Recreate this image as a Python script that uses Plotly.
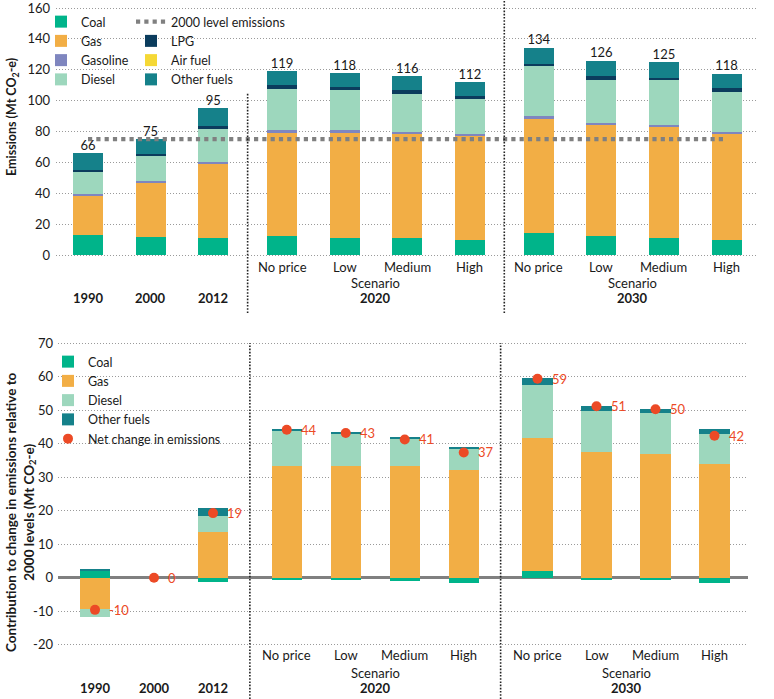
import plotly.graph_objects as go

# ---------------- data ----------------
periods = ["1990", "2000", "2012"]
scenarios = ["No price", "Low", "Medium", "High"]
scenario_years = ["2020", "2030"]

# Top chart: emissions by fuel (Mt CO2-e); order = 1990, 2000, 2012, 2020 x4, 2030 x4
coal     = [13.0, 12.0, 11.0, 12.3, 11.2, 11.2, 9.9, 14.4, 12.3, 11.2, 9.9]
gas      = [25.0, 34.4, 48.0, 67.0, 68.2, 67.2, 67.4, 73.9, 71.7, 71.7, 68.5]
gasoline = [1.3, 1.3, 1.3, 1.6, 1.6, 1.3, 1.3, 1.7, 1.5, 1.3, 1.5]
diesel   = [15.0, 16.8, 21.4, 27.0, 25.7, 24.8, 22.4, 32.6, 28.1, 29.1, 25.8]
lpg      = [0.7, 0.9, 1.9, 2.0, 2.3, 2.5, 2.2, 1.3, 2.4, 1.3, 2.3]
air_fuel = [0.0, 0.0, 0.0, 0.0, 0.0, 0.0, 0.0, 0.0, 0.0, 0.0, 0.0]
other    = [11.0, 9.6, 11.4, 9.4, 9.0, 9.0, 8.8, 10.4, 10.0, 10.4, 9.6]

# Bottom chart: contribution to change relative to 2000 levels
d_coal   = [2.1, 0.0, -1.1, -0.5, -0.5, -1.0, -1.6, 2.1, -0.5, -0.5, -1.6]
d_gas    = [-9.3, 0.0, 13.8, 33.4, 33.4, 33.4, 32.4, 39.8, 37.6, 37.2, 34.0]
d_diesel = [-2.3, 0.0, 4.6, 10.7, 9.6, 8.0, 6.3, 15.8, 12.3, 12.1, 9.0]
d_other  = [0.6, 0.0, 2.5, 0.4, 0.6, 0.6, 0.5, 2.1, 1.4, 1.1, 1.6]
net      = [-9.6, 0.0, 19.3, 44.2, 43.2, 41.3, 37.4, 59.4, 51.2, 50.3, 42.4]

top_ticks = [0, 20, 40, 60, 80, 100, 120, 140, 160]
bot_ticks = [-20, -10, 0, 10, 20, 30, 40, 50, 60, 70]

# ---------------- styling ----------------
W, H = 774, 699
FONT = "Lato"
C_COAL, C_GAS, C_GASOLINE = "#00B48A", "#F2AE45", "#7F86BF"
C_DIESEL, C_LPG, C_AIR, C_OTHER = "#9DD7BD", "#0B3C5D", "#F5D835", "#15818A"
C_NET = "#EC4A26"
TXT = "#1a1a1a"


def py(px):
    return 1 - px / H


def slot_positions(gap):
    xs = [float(i) for i in range(len(periods))]
    for g in range(len(scenario_years)):
        base = len(periods) + g * len(scenarios) + (g + 1) * gap
        xs += [base + i for i in range(len(scenarios))]
    return xs


xt = slot_positions(0.1)
xb = slot_positions(0.25)

fig = go.Figure()

# ---- top stacked bars ----
top_series = [
    ("Coal", coal, C_COAL, "legend", 1),
    ("Gas", gas, C_GAS, "legend", 2),
    ("Gasoline", gasoline, C_GASOLINE, "legend", 3),
    ("Diesel", diesel, C_DIESEL, "legend", 4),
    ("LPG", lpg, C_LPG, "legend2", 2),
    ("Air fuel", air_fuel, C_AIR, "legend2", 3),
    ("Other fuels", other, C_OTHER, "legend2", 4),
]
for name, vals, col, leg, rank in top_series:
    fig.add_trace(go.Bar(x=xt, y=vals, name=name, marker=dict(color=col, line=dict(width=0)),
                         width=0.48, xaxis="x", yaxis="y", legend=leg, legendrank=rank))

totals = [sum(v) for v in zip(coal, gas, gasoline, diesel, lpg, air_fuel, other)]
level_2000 = totals[periods.index("2000")]

fig.add_trace(go.Scatter(x=[xt[0], xt[-1]], y=[level_2000, level_2000], mode="lines",
                         name="2000 level emissions",
                         line=dict(color="#808080", width=4.2, dash="4.2px,4.1px"),
                         xaxis="x", yaxis="y", legend="legend2", legendrank=1))

fig.add_trace(go.Scatter(x=xt, y=totals, mode="text", text=[f"{round(t)}" for t in totals],
                         textposition="top center", textfont=dict(size=13, color=TXT, family=FONT),
                         showlegend=False, xaxis="x", yaxis="y", hoverinfo="skip"))

# ---- bottom stacked bars ----
bot_series = [
    ("Coal", d_coal, C_COAL),
    ("Gas", d_gas, C_GAS),
    ("Diesel", d_diesel, C_DIESEL),
    ("Other fuels", d_other, C_OTHER),
]
for i, (name, vals, col) in enumerate(bot_series):
    fig.add_trace(go.Bar(x=xb, y=vals, name=name, marker=dict(color=col, line=dict(width=0)),
                         width=0.51, xaxis="x2", yaxis="y2", legend="legend3", legendrank=i + 1))

fig.add_trace(go.Scatter(x=xb, y=net, mode="markers", name="Net change in emissions",
                         marker=dict(color=C_NET, size=10),
                         xaxis="x2", yaxis="y2", legend="legend3", legendrank=5))

# ---------------- axes ----------------
grid = dict(showgrid=True, gridcolor="#9a9a9a", griddash="1px,2px", gridwidth=1)
tickfont = dict(size=13, color=TXT, family=FONT)
top_ppu = 247 / 160.0
bot_ppu = (644.7 - 343.3) / 90.0
pad_t, pad_b = 2.0, 0.8

fig.update_layout(
    xaxis=dict(domain=[56 / W, 758 / W], range=[(56 - 88) / 62.6, (758 - 88) / 62.6],
               anchor="y", showticklabels=False, showgrid=False, zeroline=False),
    yaxis=dict(domain=[py(255 + pad_t * top_ppu), py(8 - pad_t * top_ppu)],
               range=[-pad_t, 160 + pad_t], anchor="x", tickvals=top_ticks,
               ticktext=[str(v) for v in top_ticks], zeroline=False, showline=False,
               tickfont=tickfont, ticklabelstandoff=5, ticklabeloverflow="allow",
               automargin=False, **grid),
    xaxis2=dict(domain=[58 / W, 748 / W], range=[(58 - 95) / 59, (748 - 95) / 59],
                anchor="y2", showticklabels=False, showgrid=False, zeroline=False),
    yaxis2=dict(domain=[py(644.7 + pad_b * bot_ppu), py(343.3 - pad_b * bot_ppu)],
                range=[-20 - pad_b, 70 + pad_b], anchor="x2", tickvals=bot_ticks,
                ticktext=[str(v) for v in bot_ticks], zeroline=True, zerolinecolor="#808080",
                zerolinewidth=2.5, showline=False, tickfont=tickfont, ticklabelstandoff=4,
                ticklabeloverflow="allow", automargin=False, **grid),
)

# ---------------- group separators ----------------
shapes = []
sep_style = dict(color="#222222", width=1.6, dash="1.6px,1.6px")
for g in range(len(scenario_years)):
    last_idx = len(periods) + g * len(scenarios) - 1
    xs_top = (xt[last_idx] + xt[last_idx + 1]) / 2
    xs_bot = (xb[last_idx] + xb[last_idx + 1]) / 2
    shapes.append(dict(type="line", xref="x", yref="paper", x0=xs_top, x1=xs_top,
                       y0=py(313), y1=py(93) if g == 0 else 1.0, line=sep_style, layer="above"))
    shapes.append(dict(type="line", xref="x2", yref="paper", x0=xs_bot, x1=xs_bot,
                       y0=0.0, y1=py(343), line=sep_style, layer="above"))

# ---------------- annotations ----------------
ann = []


def add_labels(xref, xs, y_scen, y_scen_title, y_year):
    for i, p in enumerate(periods):
        ann.append(dict(x=xs[i], y=py(y_year), xref=xref, yref="paper", text=f"<b>{p}</b>",
                        showarrow=False, xanchor="center", yanchor="middle",
                        font=dict(size=13, color=TXT, family=FONT)))
    for g, yr in enumerate(scenario_years):
        idx = [len(periods) + g * len(scenarios) + i for i in range(len(scenarios))]
        for i, s in zip(idx, scenarios):
            ann.append(dict(x=xs[i], y=py(y_scen), xref=xref, yref="paper", text=s,
                            showarrow=False, xanchor="center", yanchor="middle",
                            font=dict(size=13, color=TXT, family=FONT)))
        cx = sum(xs[i] for i in idx) / len(idx)
        ann.append(dict(x=cx, y=py(y_scen_title), xref=xref, yref="paper", text="Scenario",
                        showarrow=False, xanchor="center", yanchor="middle",
                        font=dict(size=13, color=TXT, family=FONT)))
        ann.append(dict(x=cx, y=py(y_year), xref=xref, yref="paper", text=f"<b>{yr}</b>",
                        showarrow=False, xanchor="center", yanchor="middle",
                        font=dict(size=13, color=TXT, family=FONT)))


add_labels("x", xt, 267, 283, 298)
add_labels("x2", xb, 655, 673, 688)

# net change value labels, to the right of each dot
for xv, v in zip(xb, net):
    ann.append(dict(x=xv, y=v, xref="x2", yref="y2", text=f"{round(v)}", showarrow=False,
                    xanchor="left", yanchor="middle", xshift=12,
                    font=dict(size=13, color=C_NET, family=FONT)))

ann.append(dict(x=12 / W, y=py(117), xref="paper", yref="paper", textangle=-90,
                xanchor="center", yanchor="middle",
                text="<b>Emissions (Mt CO<sub>2</sub>-e)</b>", showarrow=False,
                font=dict(size=12.5, color=TXT, family=FONT)))
ann.append(dict(x=20 / W, y=py(512), xref="paper", yref="paper", textangle=-90,
                xanchor="center", yanchor="middle",
                text="<b>Contribution to change in emissions relative to<br>2000 levels (Mt CO<sub>2</sub>-e)</b>",
                showarrow=False, font=dict(size=13.5, color=TXT, family=FONT)))

legend_common = dict(xref="paper", yref="paper", xanchor="left", yanchor="top",
                     bgcolor="rgba(0,0,0,0)", borderwidth=0, traceorder="normal",
                     font=dict(size=12.5, color=TXT, family=FONT), itemclick=False)

fig.update_layout(
    width=W, height=H, margin=dict(l=0, r=0, t=0, b=0, autoexpand=False),
    paper_bgcolor="white", plot_bgcolor="white",
    barmode="relative", bargap=0,
    font=dict(family=FONT, color=TXT),
    shapes=shapes, annotations=ann,
    legend=dict(x=41 / W, y=py(7), **legend_common),
    legend2=dict(x=131 / W, y=py(7), **legend_common),
    legend3=dict(x=48 / W, y=py(347), **legend_common),
)

fig.write_html("out.html", config={"displayModeBar": False},
               post_script="document.body.style.margin='0';document.body.style.overflow='hidden';")
